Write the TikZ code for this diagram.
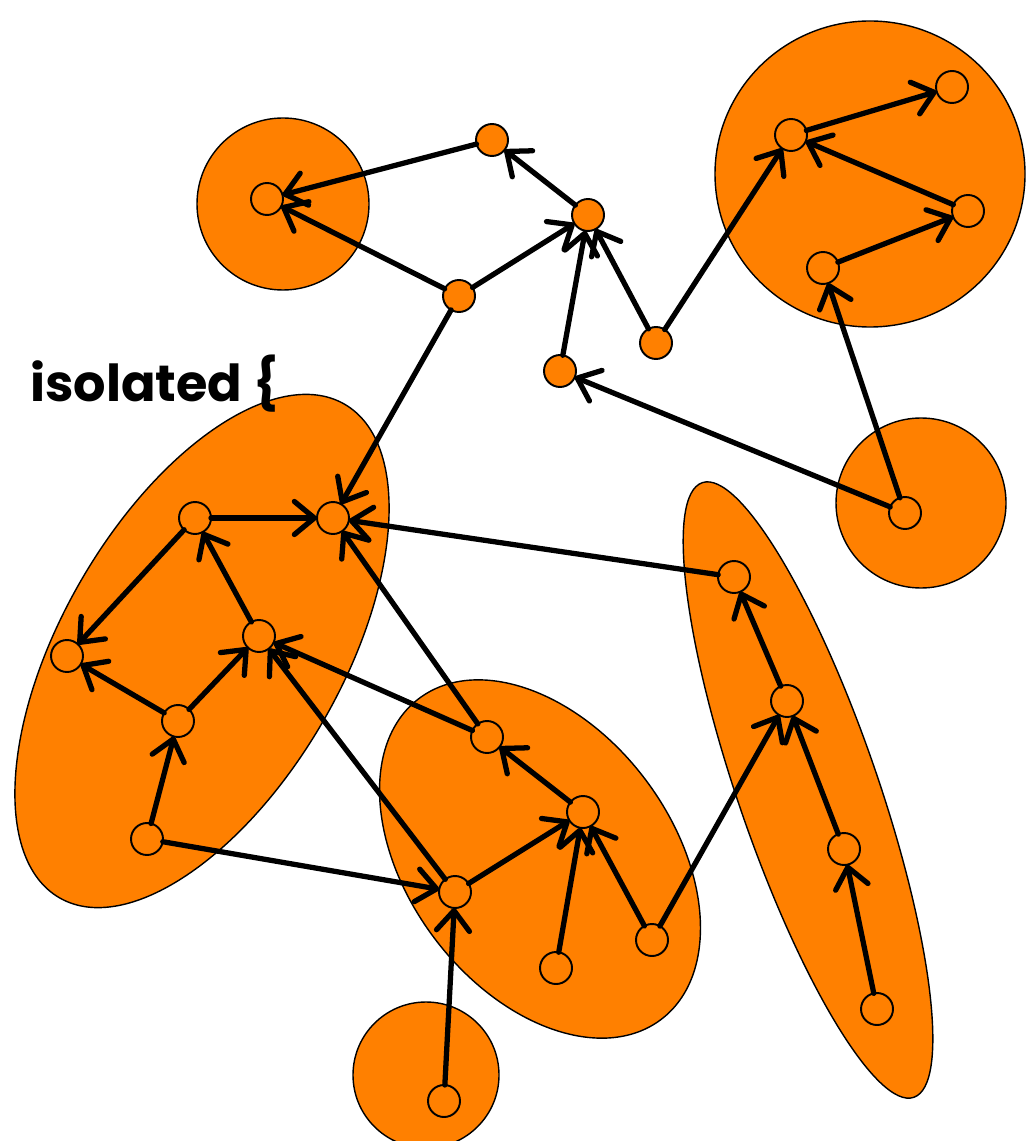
\documentclass[tikz,border=0pt]{standalone}
\usepackage{fontspec}
\newfontfamily\handfont{Poppins}
\usepackage{tikz}
\usetikzlibrary{arrows.meta}

\begin{document}
\begin{tikzpicture}[x=0.02cm, y=-0.02cm,
  blob/.style={fill=orange, draw=black, line width=0.8pt},
  vert/.style={circle, fill=orange, draw=black, line width=1.1pt, minimum size=0.64cm, inner sep=0pt, outer sep=0pt},
  edge/.style={line width=3pt, -{Straight Barb[length=4mm, width=6.6mm, round]}, line cap=round}]
\useasboundingbox (0,0) rectangle (1030,1141);

% groups
\draw[blob] (283,204) circle [radius=86];
\draw[blob] (870,174) ellipse [x radius=155, y radius=153];
\draw[blob] (921,503) circle [radius=85];
\draw[blob] (426,1075) circle [radius=73];
\draw[blob] (202,651) ellipse [x radius=285, y radius=140, rotate=60];
\draw[blob] (540,859) ellipse [x radius=201, y radius=132, rotate=-53];
\draw[blob] (808,790) ellipse [x radius=325, y radius=70, rotate=-71];

\node[anchor=base west, font=\handfont\bfseries\fontsize{29}{32}\selectfont] (lab) at (24,402) {isolated \{};

% vertices
\node[vert] (t1) at (492,140) {};
\node[vert] (t2) at (267,199) {};
\node[vert] (t3) at (588,215) {};
\node[vert] (t4) at (459,296) {};
\node[vert] (t5) at (656,343) {};
\node[vert] (t6) at (560,371) {};
\node[vert] (r1) at (791,135) {};
\node[vert] (r2) at (952,87) {};
\node[vert] (r3) at (968,211) {};
\node[vert] (r4) at (823,268) {};
\node[vert] (s1) at (905,513) {};
\node[vert] (l1) at (195,518) {};
\node[vert] (l2) at (333,518) {};
\node[vert] (l3) at (67,656) {};
\node[vert] (l4) at (259,636) {};
\node[vert] (l5) at (178,721) {};
\node[vert] (l6) at (147,839) {};
\node[vert] (m1) at (487,737) {};
\node[vert] (m2) at (583,812) {};
\node[vert] (m3) at (455,892) {};
\node[vert] (m4) at (556,968) {};
\node[vert] (m5) at (652,940) {};
\node[vert] (d1) at (444,1101) {};
\node[vert] (e1) at (734,577) {};
\node[vert] (e2) at (787,701) {};
\node[vert] (e3) at (844,849) {};
\node[vert] (e4) at (877,1009) {};

% edges
\draw[edge] (t1) -- (t2);
\draw[edge] (t4) -- (t2);
\draw[edge] (t3) -- (t1);
\draw[edge] (t4) -- (t3);
\draw[edge] (t6) -- (t3);
\draw[edge] (t5) -- (t3);
\draw[edge] (t5) -- (r1);
\draw[edge] (r1) -- (r2);
\draw[edge] (r3) -- (r1);
\draw[edge] (r4) -- (r3);
\draw[edge] (s1) -- (r4);
\draw[edge] (s1) -- (t6);
\draw[edge] (t4) -- (l2);
\draw[edge] (l1) -- (l2);
\draw[edge] (l1) -- (l3);
\draw[edge] (l4) -- (l1);
\draw[edge] (l5) -- (l3);
\draw[edge] (l5) -- (l4);
\draw[edge] (l6) -- (l5);
\draw[edge] (l6) -- (m3);
\draw[edge] (m3) -- (l4);
\draw[edge] (m1) -- (l4);
\draw[edge] (m1) -- (l2);
\draw[edge] (e1) -- (l2);
\draw[edge] (m2) -- (m1);
\draw[edge] (m3) -- (m2);
\draw[edge] (m4) -- (m2);
\draw[edge] (m5) -- (m2);
\draw[edge] (m5) -- (e2);
\draw[edge] (d1) -- (m3);
\draw[edge] (e2) -- (e1);
\draw[edge] (e3) -- (e2);
\draw[edge] (e4) -- (e3);
\end{tikzpicture}
\end{document}
